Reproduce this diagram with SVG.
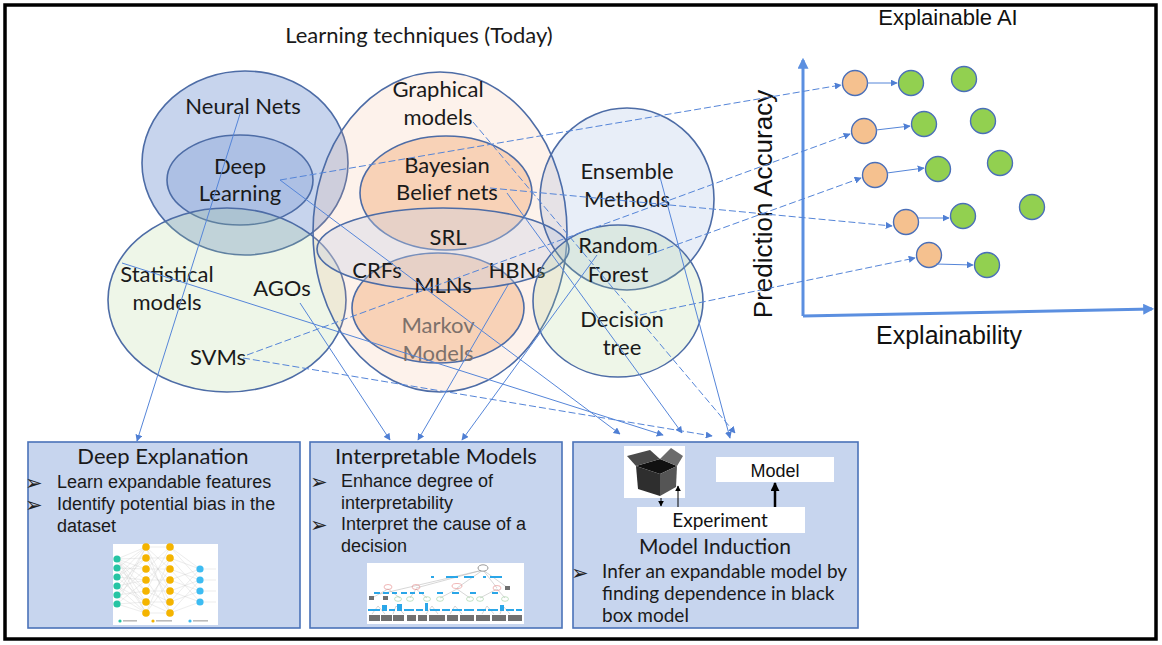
<svg xmlns="http://www.w3.org/2000/svg" width="1162" height="645" viewBox="0 0 1162 645">
  <defs>
    <marker id="ah" viewBox="0 0 10 10" refX="9" refY="5" markerWidth="7" markerHeight="7" orient="auto-start-reverse" markerUnits="userSpaceOnUse">
      <path d="M0,0 L10,5 L0,10 z" fill="#4f7fd4"/>
    </marker>
    <marker id="axis" viewBox="0 0 10 10" refX="8" refY="5" markerWidth="11" markerHeight="11" orient="auto" markerUnits="userSpaceOnUse">
      <path d="M0,0 L10,5 L0,10 z" fill="#5b8fe0"/>
    </marker>
    <marker id="blk" viewBox="0 0 10 10" refX="9" refY="5" markerWidth="6" markerHeight="6" orient="auto" markerUnits="userSpaceOnUse">
      <path d="M0,0 L10,5 L0,10 z" fill="#000"/>
    </marker>
    <marker id="blk2" viewBox="0 0 10 10" refX="9" refY="5" markerWidth="9" markerHeight="9" orient="auto" markerUnits="userSpaceOnUse">
      <path d="M0,0 L10,5 L0,10 z" fill="#000"/>
    </marker>
  </defs>
  <style>
    .lbl { font-family: Lato, "Open Sans", sans-serif; font-size: 22px; fill: #1a1a1a; text-anchor: middle; }
    .set { stroke: #4d6ca6; stroke-width: 1.6; }
    .conn { fill: none; stroke: #5585d8; stroke-width: 1; marker-end: url(#ah); }
    .dash { stroke-dasharray: 7 3; }
    .box { fill: #c7d5ee; stroke: #4a72b8; stroke-width: 1.6; }
    .btitle { font-family: Lato, "Open Sans", sans-serif; font-size: 22px; fill: #1a1a1a; text-anchor: middle; }
    .bul { font-family: "Liberation Sans", Arial, sans-serif; font-size: 18px; fill: #1a1a1a; }
    .bulc { font-family: Lato, "Open Sans", sans-serif; font-size: 19px; fill: #1a1a1a; }
    .arr { font-family: "DejaVu Sans", sans-serif; font-size: 21px; fill: #222; }
    .ax { font-family: "Liberation Sans", Arial, sans-serif; fill: #111; text-anchor: middle; }
    .org { fill: #f5c18f; stroke: #4a6fb8; stroke-width: 1.4; }
    .grn { fill: #92d050; stroke: #4a6fb8; stroke-width: 1.4; }
    .step { fill: none; stroke: #5585d8; stroke-width: 1; marker-end: url(#ah); }
  </style>

  <rect x="0" y="0" width="1162" height="645" fill="#ffffff"/>
  <rect x="5" y="5" width="1151" height="634" fill="none" stroke="#000" stroke-width="3.5"/>

  <text x="419" y="43" font-family="Lato, 'Open Sans', sans-serif" font-size="22" fill="#1a1a1a" text-anchor="middle">Learning techniques (Today)</text>

  <!-- Venn of learning techniques -->
  <g id="neural-nets">
    <ellipse class="set" cx="245" cy="163" rx="103" ry="92" fill="#4472c4" fill-opacity="0.3"/>
  </g>
  <g id="deep-learning">
    <ellipse class="set" cx="240" cy="180" rx="73" ry="45" fill="#4472c4" fill-opacity="0.2"/>
  </g>
  <g id="statistical-models">
    <ellipse class="set" cx="227" cy="300" rx="119" ry="92" fill="#a9d18e" fill-opacity="0.2"/>
  </g>
  <g id="graphical-models">
    <ellipse class="set" cx="440" cy="232" rx="127" ry="160" fill="#f4b183" fill-opacity="0.16"/>
  </g>
  <g id="bayesian-belief-nets">
    <ellipse class="set" cx="446" cy="193" rx="86" ry="57" fill="#f4b183" fill-opacity="0.5"/>
  </g>
  <g id="markov-models">
    <ellipse class="set" cx="438" cy="308" rx="86" ry="55" fill="#f4b183" fill-opacity="0.5"/>
  </g>
  <g id="srl">
    <ellipse class="set" cx="443" cy="249" rx="126" ry="41" fill="#c9d2e4" fill-opacity="0.35"/>
  </g>
  <g id="ensemble-methods">
    <ellipse class="set" cx="627" cy="199" rx="87" ry="91" fill="#4472c4" fill-opacity="0.12"/>
  </g>

  <g id="venn-labels">
    <text class="lbl" x="243" y="114">Neural Nets</text>
    <text class="lbl" x="240" y="174">Deep</text>
    <text class="lbl" x="240" y="201">Learning</text>
    <text class="lbl" x="167" y="282">Statistical</text>
    <text class="lbl" x="167" y="310">models</text>
    <text class="lbl" x="282" y="296">AGOs</text>
    <text class="lbl" x="218" y="365">SVMs</text>
    <text class="lbl" x="438" y="97">Graphical</text>
    <text class="lbl" x="438" y="125">models</text>
    <text class="lbl" x="447" y="173">Bayesian</text>
    <text class="lbl" x="447" y="200">Belief nets</text>
    <text class="lbl" x="448" y="245">SRL</text>
    <text class="lbl" x="377" y="278">CRFs</text>
    <text class="lbl" x="443" y="293">MLNs</text>
    <text class="lbl" x="517" y="278">HBNs</text>
    <text class="lbl" x="438" y="333" style="fill:#7d716b">Markov</text>
    <text class="lbl" x="438" y="361" style="fill:#7d716b">Models</text>
    <text class="lbl" x="627" y="179">Ensemble</text>
    <text class="lbl" x="627" y="207">Methods</text>
  </g>

  <g id="decision-tree">
    <ellipse class="set" cx="618" cy="301" rx="85" ry="76" fill="#a9d18e" fill-opacity="0.2"/>
    <text class="lbl" x="618" y="253">Random</text>
    <text class="lbl" x="618" y="282">Forest</text>
    <text class="lbl" x="622" y="327">Decision</text>
    <text class="lbl" x="622" y="355">tree</text>
  </g>

  <!-- Explainable AI chart -->
  <g id="xai-chart">
    <text class="ax" x="948" y="25" font-size="22">Explainable AI</text>
    <line x1="803" y1="316" x2="803" y2="60" stroke="#5b8fe0" stroke-width="3" marker-end="url(#axis)"/>
    <line x1="803" y1="316" x2="1152" y2="309" stroke="#5b8fe0" stroke-width="3" marker-end="url(#axis)"/>
    <text class="ax" x="0" y="0" font-size="26" transform="translate(772,204) rotate(-90)">Prediction Accuracy</text>
    <text class="ax" x="949" y="344" font-size="25">Explainability</text>
  </g>
  <g id="models-before">
    <circle class="org" cx="855" cy="83" r="12.5"/>
    <circle class="org" cx="864" cy="131" r="12.5"/>
    <circle class="org" cx="875" cy="175" r="12.5"/>
    <circle class="org" cx="906" cy="222" r="12.5"/>
    <circle class="org" cx="929" cy="255" r="12.5"/>
  </g>
  <g id="models-after">
    <circle class="grn" cx="911" cy="83" r="12.5"/>
    <circle class="grn" cx="924" cy="124" r="12.5"/>
    <circle class="grn" cx="938" cy="169" r="12.5"/>
    <circle class="grn" cx="963" cy="216" r="12.5"/>
    <circle class="grn" cx="987" cy="265" r="12.5"/>
    <circle class="grn" cx="964" cy="79" r="12.5"/>
    <circle class="grn" cx="983" cy="121" r="12.5"/>
    <circle class="grn" cx="1000" cy="163" r="12.5"/>
    <circle class="grn" cx="1032" cy="207" r="12.5"/>
  </g>

  <!-- Deep Explanation -->
  <g id="deep-explanation">
    <rect class="box" x="28" y="442" width="272" height="186"/>
    <text class="btitle" x="163" y="464">Deep Explanation</text>
    <text class="arr" x="25" y="490">➢</text>
    <text class="bul" x="57" y="488">Learn expandable features</text>
    <text class="arr" x="25" y="512">➢</text>
    <text class="bul" x="57" y="510">Identify potential bias in the</text>
    <text class="bul" x="57" y="532">dataset</text>
    <g id="nn-picture">
      <rect x="113" y="544" width="105" height="81" fill="#ffffff"/>
      <g stroke="#8a8a8a" stroke-width="0.25" opacity="0.6">
        <path d="M117,559 L146,547 M117,559 L146,558 M117,559 L146,569 M117,559 L146,580 M117,559 L146,591 M117,559 L146,602 M117,559 L146,613
                 M117,568 L146,547 M117,568 L146,569 M117,568 L146,591 M117,568 L146,613
                 M117,577 L146,547 M117,577 L146,558 M117,577 L146,580 M117,577 L146,602
                 M117,586 L146,558 M117,586 L146,580 M117,586 L146,602 M117,586 L146,613
                 M117,595 L146,547 M117,595 L146,569 M117,595 L146,591 M117,595 L146,613
                 M117,604 L146,547 M117,604 L146,580 M117,604 L146,602 M117,604 L146,613"/>
        <path d="M146,547 L170,547 M146,547 L170,569 M146,547 L170,591 M146,547 L170,613
                 M146,558 L170,558 M146,558 L170,580 M146,558 L170,602
                 M146,569 L170,547 M146,569 L170,569 M146,569 L170,591
                 M146,580 L170,558 M146,580 L170,580 M146,580 L170,613
                 M146,591 L170,547 M146,591 L170,591 M146,591 L170,602
                 M146,602 L170,569 M146,602 L170,602 M146,602 L170,613
                 M146,613 L170,558 M146,613 L170,580 M146,613 L170,613"/>
        <path d="M170,547 L200,569 M170,547 L200,580 M170,558 L200,569 M170,558 L200,591 M170,569 L200,580 M170,569 L200,602
                 M170,580 L200,569 M170,580 L200,591 M170,591 L200,580 M170,591 L200,602 M170,602 L200,569 M170,602 L200,591
                 M170,613 L200,580 M170,613 L200,602"/>
        <path d="M200,569 L216,569 M200,580 L216,580 M200,591 L216,591 M200,602 L216,602"/>
      </g>
      <g fill="#26c4a4">
        <circle cx="117" cy="559" r="3.6"/><circle cx="117" cy="568" r="3.6"/><circle cx="117" cy="577" r="3.6"/>
        <circle cx="117" cy="586" r="3.6"/><circle cx="117" cy="595" r="3.6"/><circle cx="117" cy="604" r="3.6"/>
      </g>
      <g fill="#f4b400">
        <circle cx="146" cy="547" r="3.8"/><circle cx="146" cy="558" r="3.8"/><circle cx="146" cy="569" r="3.8"/>
        <circle cx="146" cy="580" r="3.8"/><circle cx="146" cy="591" r="3.8"/><circle cx="146" cy="602" r="3.8"/>
        <circle cx="146" cy="613" r="3.8"/>
        <circle cx="170" cy="547" r="3.8"/><circle cx="170" cy="558" r="3.8"/><circle cx="170" cy="569" r="3.8"/>
        <circle cx="170" cy="580" r="3.8"/><circle cx="170" cy="591" r="3.8"/><circle cx="170" cy="602" r="3.8"/>
        <circle cx="170" cy="613" r="3.8"/>
      </g>
      <g fill="#3dbcf2">
        <circle cx="200" cy="569" r="3.6"/><circle cx="200" cy="580" r="3.6"/>
        <circle cx="200" cy="591" r="3.6"/><circle cx="200" cy="602" r="3.6"/>
      </g>
      <g>
        <circle cx="120" cy="621" r="1.6" fill="#26c4a4"/><rect x="123" y="620" width="14" height="1.6" fill="#bbb"/>
        <circle cx="153" cy="621" r="1.6" fill="#f4b400"/><rect x="156" y="620" width="16" height="1.6" fill="#bbb"/>
        <circle cx="190" cy="621" r="1.6" fill="#3dbcf2"/><rect x="193" y="620" width="15" height="1.6" fill="#bbb"/>
      </g>
    </g>
  </g>

  <!-- Interpretable Models -->
  <g id="interpretable-models">
    <rect class="box" x="310" y="442" width="252" height="186"/>
    <text class="btitle" x="436" y="464">Interpretable Models</text>
    <text class="arr" x="310" y="489">➢</text>
    <text class="bul" x="341" y="487">Enhance degree of</text>
    <text class="bul" x="341" y="509">interpretability</text>
    <text class="arr" x="310" y="532">➢</text>
    <text class="bul" x="341" y="530">Interpret the cause of a</text>
    <text class="bul" x="341" y="552">decision</text>
    <g id="tree-picture">
      <rect x="367" y="563" width="157" height="61" fill="#ffffff"/>
      <g stroke="#9a9a9a" stroke-width="0.4" fill="none">
        <path d="M483,570 L380,594 M483,570 L416,588 M483,570 L457,588 M483,570 L497,588 M483,570 L508,588"/>
        <path d="M388,589 L372,598 M388,589 L400,598 M416,589 L410,598 M416,589 L427,598 M457,589 L440,598 M457,589 L470,598 M497,589 L480,598 M497,589 L505,598"/>
        <path d="M378,606 L372,614 M378,606 L385,614 M396,606 L393,614 M396,606 L404,614 M432,606 L426,614 M432,606 L438,614 M455,606 L450,614 M455,606 L462,614 M487,606 L482,614 M487,606 L494,614 M503,606 L500,614 M503,606 L510,614"/>
      </g>
      <ellipse cx="483" cy="568" rx="5" ry="3.2" fill="#fff" stroke="#555" stroke-width="0.6"/>
      <g fill="#2aa6e8">
        <rect x="431" y="576" width="3" height="2"/><rect x="446" y="576" width="12" height="2"/><rect x="464" y="576" width="10" height="2"/>
        <rect x="483" y="576" width="3" height="2"/><rect x="490" y="576" width="12" height="2"/>
        <rect x="374" y="592" width="6" height="2"/><rect x="383" y="592" width="6" height="2"/><rect x="392" y="592" width="5" height="2"/>
        <rect x="401" y="592" width="6" height="2"/><rect x="410" y="592" width="5" height="2"/><rect x="419" y="592" width="5" height="2"/>
        <rect x="437" y="592" width="6" height="2"/><rect x="452" y="592" width="7" height="2"/><rect x="470" y="592" width="6" height="2"/>
        <rect x="492" y="592" width="6" height="2"/>
        <rect x="368" y="609" width="12" height="2"/><rect x="382" y="605" width="5" height="6"/><rect x="389" y="609" width="6" height="2"/>
        <rect x="397" y="604" width="5" height="7"/><rect x="404" y="609" width="10" height="2"/><rect x="416" y="609" width="7" height="2"/>
        <rect x="425" y="603" width="3" height="8"/><rect x="430" y="609" width="10" height="2"/><rect x="442" y="609" width="8" height="2"/>
        <rect x="452" y="609" width="10" height="2"/><rect x="464" y="609" width="10" height="2"/><rect x="477" y="609" width="9" height="2"/>
        <rect x="488" y="609" width="10" height="2"/><rect x="500" y="605" width="4" height="6"/><rect x="506" y="609" width="8" height="2"/>
        <rect x="516" y="609" width="6" height="2"/>
      </g>
      <g fill="none" stroke="#e07070" stroke-width="0.5">
        <ellipse cx="388" cy="587" rx="4" ry="2.5"/><ellipse cx="416" cy="587" rx="4" ry="2.5"/><ellipse cx="457" cy="586" rx="5" ry="2.5"/>
        <ellipse cx="497" cy="588" rx="4" ry="2.5"/>
      </g>
      <g fill="none" stroke="#8bc58b" stroke-width="0.5">
        <ellipse cx="398" cy="599" rx="3.5" ry="2.3"/><ellipse cx="410" cy="599" rx="3.5" ry="2.3"/><ellipse cx="427" cy="599" rx="3.5" ry="2.3"/>
        <ellipse cx="440" cy="599" rx="3.5" ry="2.3"/><ellipse cx="470" cy="599" rx="3.5" ry="2.3"/><ellipse cx="480" cy="599" rx="3.5" ry="2.3"/>
        <ellipse cx="505" cy="599" rx="3.5" ry="2.3"/>
      </g>
      <g fill="#707070">
        <rect x="369" y="596" width="5" height="4"/><rect x="383" y="596" width="5" height="4"/><rect x="505" y="586" width="5" height="4"/>
        <rect x="369" y="615" width="11" height="6"/><rect x="381" y="615" width="11" height="6"/><rect x="393" y="615" width="11" height="6"/>
        <rect x="407" y="615" width="9" height="6"/><rect x="418" y="615" width="9" height="6"/><rect x="429" y="615" width="16" height="6"/>
        <rect x="447" y="615" width="11" height="6"/><rect x="460" y="615" width="14" height="6"/><rect x="476" y="615" width="14" height="6"/>
        <rect x="492" y="615" width="14" height="6"/><rect x="508" y="615" width="14" height="6"/>
      </g>
    </g>
  </g>

  <!-- Model Induction -->
  <g id="model-induction">
    <rect class="box" x="573" y="442" width="285" height="186"/>
    <g id="black-box">
      <rect x="624" y="446" width="61" height="52" fill="#ffffff"/>
      <polygon points="636,466 660,459 677,466 660,474" fill="#111"/>
      <polygon points="636,466 660,474 660,496 638,489" fill="#2e2e2e"/>
      <polygon points="660,474 677,466 676,487 660,496" fill="#555"/>
      <polygon points="636,466 627,456 650,450 660,459" fill="#4a4a4a"/>
      <polygon points="660,459 671,448 683,456 677,466" fill="#6b6b6b"/>
    </g>
    <rect x="716" y="457" width="118" height="25" fill="#ffffff"/>
    <text x="775" y="477" font-family="'Liberation Sans', Arial, sans-serif" font-size="18" fill="#111" text-anchor="middle">Model</text>
    <rect x="637" y="507" width="168" height="26" fill="#ffffff"/>
    <text x="720" y="527" font-family="Lato, 'Open Sans', sans-serif" font-size="19" fill="#111" text-anchor="middle">Experiment</text>
    <line x1="661" y1="498" x2="661" y2="506" stroke="#000" stroke-width="1" marker-end="url(#blk)"/>
    <line x1="678" y1="507" x2="678" y2="486" stroke="#000" stroke-width="1" marker-end="url(#blk)"/>
    <line x1="775" y1="507" x2="775" y2="483" stroke="#000" stroke-width="2.5" marker-end="url(#blk2)"/>
    <text class="btitle" x="715" y="554" style="font-size:21px">Model Induction</text>
    <text class="arr" x="571" y="580">➢</text>
    <text class="bulc" x="602" y="578">Infer an expandable model by</text>
    <text class="bulc" x="602" y="600">finding dependence in black</text>
    <text class="bulc" x="602" y="622">box model</text>
  </g>

  <!-- Connectors -->
  <g id="connectors">
    <line class="conn" x1="240" y1="114" x2="137" y2="441"/>
    <line class="conn" x1="300" y1="303" x2="390" y2="440"/>
    <line class="conn" x1="508" y1="285" x2="418" y2="440"/>
    <line class="conn" x1="597" y1="255" x2="462" y2="440"/>
    <line class="conn" x1="280" y1="180" x2="620" y2="434"/>
    <line class="conn" x1="122" y1="263" x2="663" y2="435"/>
    <line class="conn" x1="507" y1="193" x2="682" y2="433"/>
    <line class="conn dash" x1="243" y1="358" x2="712" y2="436"/>
    <line class="conn" x1="660" y1="177" x2="730" y2="438"/>
    <line class="conn dash" x1="473" y1="122" x2="735" y2="433"/>

    <line class="conn dash" x1="280" y1="180" x2="841" y2="85"/>
    <line class="conn dash" x1="247" y1="355" x2="850" y2="134"/>
    <line class="conn dash" x1="648" y1="255" x2="861" y2="178"/>
    <line class="conn dash" x1="490" y1="188" x2="892" y2="226"/>
    <line class="conn dash" x1="640" y1="315" x2="915" y2="258"/>

    <line class="step" x1="867" y1="83" x2="897" y2="83"/>
    <line class="step" x1="876" y1="130" x2="910" y2="126"/>
    <line class="step" x1="887" y1="173" x2="924" y2="168"/>
    <line class="step" x1="918" y1="218" x2="949" y2="218"/>
    <line class="step" x1="936" y1="264" x2="973" y2="265"/>
  </g>
</svg>
